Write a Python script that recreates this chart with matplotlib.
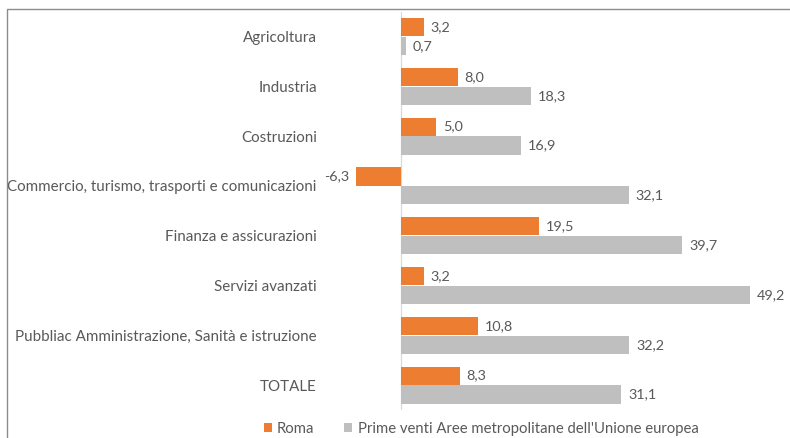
import matplotlib.pyplot as plt
from matplotlib.patches import Rectangle
import numpy as np

plt.rcParams['font.family'] = ['Lato', 'DejaVu Sans']

categories = ["Agricoltura", "Industria", "Costruzioni",
              "Commercio, turismo, trasporti e comunicazioni",
              "Finanza e assicurazioni", "Servizi avanzati",
              "Pubbliac Amministrazione, Sanità e istruzione", "TOTALE"]
roma = [3.2, 8.0, 5.0, -6.3, 19.5, 3.2, 10.8, 8.3]
eu20 = [0.7, 18.3, 16.9, 32.1, 39.7, 49.2, 32.2, 31.1]
series_names = ["Roma", "Prime venti Aree metropolitane dell'Unione europea"]

W, H = 790, 438
fig = plt.figure(figsize=(W/100, H/100), dpi=100)
left_px, right_px, top_px, bot_px = 330, 791, 11.6, 410
ax = fig.add_axes([left_px/W, 1-bot_px/H, (right_px-left_px)/W, (bot_px-top_px)/H])

orange = '#ED7D31'
grey = '#BFBFBF'
txt = '#595959'

y = np.arange(len(categories))
h = 0.365
off = 0.19
b1 = ax.barh(y - off, roma, height=h, color=orange)
b2 = ax.barh(y + off, eu20, height=h, color=grey)

ax.set_xlim(-10, 55)
ax.set_ylim(len(categories) - 0.5, -0.5)
ax.set_yticks(y)
ax.set_yticklabels(categories, color=txt, fontsize=10.9)
ax.tick_params(axis='y', length=0, pad=9.5)
ax.set_xticks([])
for s in ax.spines.values():
    s.set_visible(False)
ax.axvline(0, color='#D9D9D9', lw=0.9, zorder=0)

def fmt(v):
    return f"{v:.1f}".replace('.', ',')

for bars, vals in ((b1, roma), (b2, eu20)):
    for r, v in zip(bars, vals):
        yc = r.get_y() + r.get_height()/2
        if v >= 0:
            ax.annotate(fmt(v), (v, yc), xytext=(5, 0), textcoords='offset points',
                        ha='left', va='center', color=txt, fontsize=10.4)
        else:
            ax.annotate(fmt(v), (v, yc), xytext=(-5, 0), textcoords='offset points',
                        ha='right', va='center', color=txt, fontsize=10.4)

leg = fig.legend([b1, b2], series_names, loc='center', bbox_to_anchor=(481/W, 1-429/H),
                 ncol=2, frameon=False, fontsize=10.7, handlelength=0.55, handleheight=0.6,
                 handletextpad=0.35, columnspacing=2.0, labelcolor=txt,
                 borderpad=0, borderaxespad=0)

fig.patches.append(Rectangle((7/W, -0.1), 1.2, 1 - 9/H + 0.1, transform=fig.transFigure,
                             fill=False, edgecolor='#8C8C8C', lw=1.0))

fig.savefig('out.png', dpi=100)
